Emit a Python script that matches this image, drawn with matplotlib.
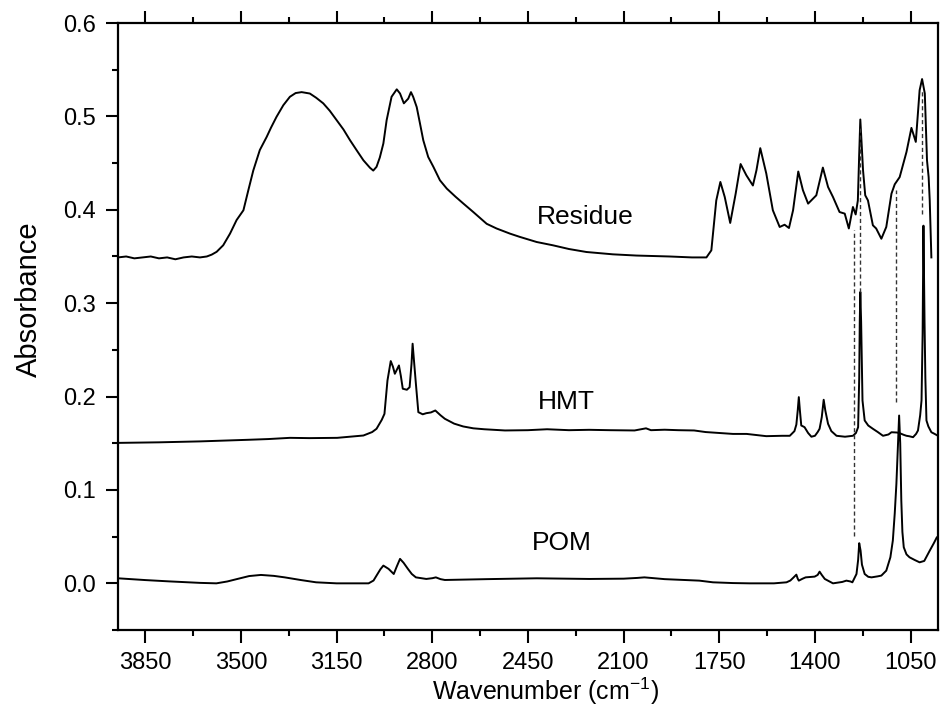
import matplotlib
matplotlib.use("Agg")
import matplotlib.pyplot as plt
from matplotlib.ticker import MultipleLocator, FormatStrFormatter

plt.rcParams['font.family'] = ['Liberation Sans', 'DejaVu Sans']
plt.rcParams['mathtext.fontset'] = 'custom'
plt.rcParams['mathtext.rm'] = 'Liberation Sans'
plt.rcParams['mathtext.it'] = 'Liberation Sans:italic'
plt.rcParams['mathtext.bf'] = 'Liberation Sans:bold'

# ---------------- data ----------------
residue_wn = [3950, 3920, 3890, 3860, 3830, 3800, 3770, 3740, 3710, 3680, 3650, 3625, 3607,
              3589, 3565, 3540, 3516, 3491, 3473, 3455, 3431, 3406, 3390, 3370, 3345, 3321, 3300,
              3278, 3248, 3225, 3199, 3175, 3150, 3125, 3101, 3075, 3052, 3028, 3016, 3004, 2992,
              2979, 2967, 2949, 2930, 2918, 2904, 2888, 2878, 2870, 2857, 2845, 2833, 2815, 2796,
              2772, 2747, 2715, 2686, 2650, 2601, 2565, 2516, 2480, 2418, 2359, 2300, 2236, 2139,
              2053, 1932, 1850, 1797, 1779, 1761, 1746, 1730, 1710, 1690, 1672, 1651, 1627, 1614,
              1600, 1578, 1554, 1529, 1511, 1495, 1480, 1461, 1444, 1425, 1395, 1371, 1352, 1334,
              1310, 1291, 1276, 1261, 1251, 1243, 1238, 1234, 1229, 1224, 1216, 1206, 1188, 1176,
              1157, 1139, 1120, 1108, 1090, 1065, 1047, 1031, 1017, 1008, 998, 990, 984, 980, 974]
residue_abs = [0.349, 0.350, 0.348, 0.349, 0.350, 0.348, 0.349, 0.347, 0.349, 0.350, 0.349, 0.350, 0.352,
               0.355, 0.362, 0.3745, 0.389, 0.3995, 0.421, 0.442, 0.464, 0.478, 0.488, 0.4995, 0.512, 0.521, 0.525,
               0.526, 0.5245, 0.520, 0.514, 0.506, 0.496, 0.486, 0.4745, 0.463, 0.453, 0.445, 0.442, 0.446, 0.456,
               0.471, 0.496, 0.521, 0.529, 0.5245, 0.514, 0.519, 0.526, 0.521, 0.510, 0.4924, 0.4745, 0.4566, 0.446,
               0.4316, 0.4227, 0.414, 0.4066, 0.3976, 0.385, 0.380, 0.3745, 0.371, 0.3655, 0.362, 0.358, 0.3548, 0.3523,
               0.351, 0.350, 0.349, 0.349, 0.3566, 0.410, 0.4298, 0.4137, 0.3859, 0.4173, 0.449, 0.437, 0.426, 0.4423,
               0.466, 0.4388, 0.3995, 0.3816, 0.384, 0.3805, 0.3995, 0.441, 0.421, 0.4066, 0.4155, 0.4452, 0.4244, 0.4137,
               0.3976, 0.3959, 0.380, 0.403, 0.395, 0.410, 0.460, 0.4967, 0.470, 0.4423, 0.4155, 0.410, 0.3834, 0.380,
               0.369, 0.3816, 0.4173, 0.4273, 0.435, 0.462, 0.4877, 0.4727, 0.528, 0.540, 0.5245, 0.453, 0.435, 0.410, 0.349]

hmt_wn = [3950, 3800, 3650, 3475, 3400, 3321, 3250, 3148, 3052, 3020, 3004, 2985, 2975, 2964,
          2952, 2944, 2937, 2922, 2915, 2908, 2893, 2883, 2876, 2872, 2866, 2860, 2851, 2835,
          2822, 2805, 2789, 2770, 2754, 2720, 2687, 2650, 2610, 2534, 2450, 2380, 2300, 2226,
          2150, 2060, 2018, 2000, 1950, 1900, 1842, 1800, 1750, 1700, 1650, 1578, 1520, 1492,
          1475, 1468, 1463, 1459, 1455, 1450, 1443, 1438, 1425, 1413, 1400, 1390, 1383, 1375,
          1368, 1362, 1352, 1340, 1321, 1290, 1261, 1250, 1242, 1238, 1236, 1234, 1231, 1226,
          1218, 1205, 1188, 1170, 1151, 1131, 1120, 1100, 1090, 1075, 1065, 1055, 1041, 1030,
          1023, 1015, 1010, 1006, 1003, 999, 996, 992, 985, 974, 962, 950]
hmt_abs = [0.1504, 0.151, 0.152, 0.1537, 0.1545, 0.1558, 0.1555, 0.1558, 0.1583, 0.162, 0.1655, 0.175, 0.1815, 0.2172,
           0.238, 0.232, 0.2244, 0.2333, 0.222, 0.2084, 0.2073, 0.210, 0.235, 0.2566, 0.235, 0.2137, 0.1833, 0.181,
           0.1822, 0.183, 0.1851, 0.180, 0.1762, 0.171, 0.168, 0.166, 0.165, 0.1637, 0.164, 0.165, 0.164, 0.1644,
           0.164, 0.1637, 0.166, 0.164, 0.1645, 0.164, 0.1637, 0.162, 0.161, 0.160, 0.160, 0.1576, 0.158, 0.158,
           0.163, 0.170, 0.185, 0.1994, 0.185, 0.169, 0.168, 0.1672, 0.161, 0.157, 0.158, 0.162, 0.1655, 0.178,
           0.1966, 0.185, 0.1708, 0.163, 0.158, 0.157, 0.158, 0.161, 0.1672, 0.22, 0.28, 0.312, 0.28, 0.1958,
           0.1744, 0.169, 0.1655, 0.162, 0.158, 0.1594, 0.1618, 0.1615, 0.1608, 0.159, 0.158, 0.1575, 0.1565, 0.160,
           0.1637, 0.180, 0.196, 0.2676, 0.383, 0.28, 0.22, 0.1744, 0.168, 0.1618, 0.160, 0.158]

pom_wn = [3950, 3850, 3763, 3650, 3590, 3550, 3513, 3470, 3427, 3380, 3340, 3280, 3225, 3150,
          3033, 3015, 3004, 2990, 2979, 2960, 2941, 2930, 2918, 2905, 2889, 2875, 2860, 2822,
          2800, 2787, 2770, 2754, 2600, 2418, 2226, 2100, 2050, 2024, 2000, 1950, 1823, 1773,
          1700, 1639, 1550, 1504, 1490, 1480, 1468, 1463, 1459, 1445, 1434, 1401, 1390, 1383,
          1375, 1364, 1334, 1300, 1285, 1270, 1263, 1248, 1242, 1238, 1233, 1228, 1218, 1205,
          1193, 1170, 1157, 1139, 1124, 1115, 1108, 1102, 1096, 1092, 1088, 1084, 1080, 1075,
          1065, 1054, 1035, 1017, 1000, 980, 965, 954, 950]
pom_abs = [0.0054, 0.0035, 0.0021, 0.0005, 0.0, 0.002, 0.0047, 0.0078, 0.009, 0.008, 0.0064, 0.0035, 0.0011, 0.0,
           0.0, 0.003, 0.0083, 0.015, 0.019, 0.0155, 0.010, 0.018, 0.0262, 0.022, 0.0154, 0.010, 0.0064, 0.0047,
           0.0055, 0.0064, 0.0045, 0.0036, 0.0045, 0.0054, 0.0047, 0.0050, 0.0058, 0.0064, 0.0058, 0.0045, 0.0029, 0.0011,
           0.0003, 0.0, 0.0, 0.0011, 0.003, 0.0058, 0.0093, 0.005, 0.0029, 0.005, 0.0064, 0.0072, 0.009, 0.0125,
           0.009, 0.0047, 0.0, 0.0015, 0.0029, 0.002, 0.0011, 0.010, 0.025, 0.043, 0.035, 0.020, 0.010, 0.007,
           0.0064, 0.0075, 0.0083, 0.0136, 0.0279, 0.0458, 0.075, 0.1065, 0.150, 0.1797, 0.150, 0.0886, 0.055, 0.0386,
           0.031, 0.0279, 0.025, 0.0225, 0.024, 0.035, 0.043, 0.0493, 0.050]

# vertical dashed guide lines (wavenumber, upper and lower absorbance)
dash_wn = [1258, 1234, 1102, 1007]
dash_top = [0.378, 0.49, 0.421, 0.528]
dash_bottom = [0.051, 0.312, 0.194, 0.396]

# curve labels
label_names = ["Residue", "HMT", "POM"]
label_wn = [2239, 2309, 2327]
label_abs = [0.392, 0.194, 0.043]

x_ticks = [3850, 3500, 3150, 2800, 2450, 2100, 1750, 1400, 1050]

# ---------------- figure ----------------
fig = plt.figure(figsize=(9.4, 7.06), dpi=100)
ax = fig.add_axes([0.1255, 0.1076, 0.8723, 0.8598])

lw = 1.4
ax.plot(residue_wn, residue_abs, color='black', lw=lw)
ax.plot(hmt_wn, hmt_abs, color='black', lw=lw)
ax.plot(pom_wn, pom_abs, color='black', lw=lw)

for w, t, b in zip(dash_wn, dash_top, dash_bottom):
    ax.plot([w, w], [b, t], color='#333333', lw=1.0, ls=(0, (3, 2)))

for name, w, a in zip(label_names, label_wn, label_abs):
    ax.text(w, a, name, fontsize=19, ha='center', va='center', color='black')

ax.set_xlim(3950, 950)
ax.set_ylim(-0.05, 0.6)
ax.set_xticks(x_ticks)
ax.xaxis.set_minor_locator(MultipleLocator(175))
ax.yaxis.set_major_locator(MultipleLocator(0.1))
ax.yaxis.set_minor_locator(MultipleLocator(0.05))
ax.yaxis.set_major_formatter(FormatStrFormatter('%.1f'))

ax.tick_params(axis='both', which='both', direction='out', width=1.5,
               labelsize=17, colors='black')
ax.tick_params(axis='both', which='major', length=9, pad=7)
ax.tick_params(axis='both', which='minor', length=4.5)
ax.tick_params(axis='x', which='both', top=True, labeltop=False, bottom=True)
ax.tick_params(axis='y', which='both', right=False, left=True)

for s in ax.spines.values():
    s.set_linewidth(1.6)

ax.set_xlabel('Wavenumber (cm$^{-1}$)', fontsize=18)
ax.xaxis.set_label_coords(0.521, -0.101)
ax.xaxis.label.set_va('center')
ax.set_ylabel('Absorbance', fontsize=21)
ax.yaxis.set_label_coords(-0.108, 0.545)
ax.yaxis.label.set_va('center')

fig.savefig('out.png', dpi=100)
